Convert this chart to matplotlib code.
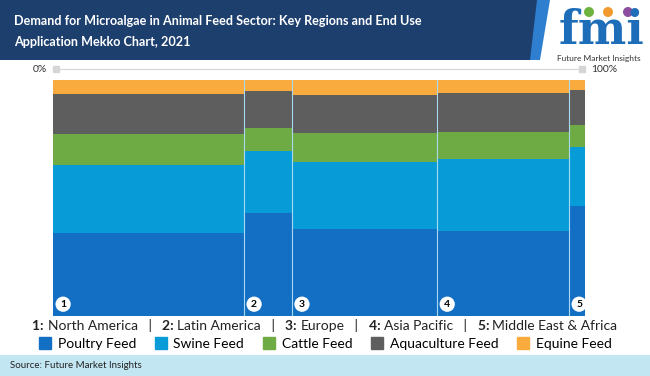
import numpy as np
import matplotlib.pyplot as plt
from matplotlib.patches import Polygon, Rectangle, Circle
from matplotlib.lines import Line2D

plt.rcParams['font.family'] = ['Lato', 'DejaVu Sans']

# data (percent)
regions = ['North America', 'Latin America', 'Europe', 'Asia Pacific', 'Middle East & Africa']
region_share = [35.9, 9.0, 27.3, 24.8, 3.0]
segments = ['Poultry Feed', 'Swine Feed', 'Cattle Feed', 'Aquaculture Feed', 'Equine Feed']
poultry = [35.2, 43.6, 36.9, 36.1, 46.6]
swine = [28.7, 26.3, 28.3, 30.4, 25.0]
cattle = [13.4, 9.7, 12.4, 11.4, 9.2]
aqua = [16.8, 15.7, 16.0, 16.7, 15.1]
equine = [5.9, 4.7, 6.4, 5.4, 4.1]
colors = ['#136fc3', '#079cd8', '#6fab45', '#5e5e5e', '#f9ab3e']

W, H = 650, 376
fig = plt.figure(figsize=(6.5, 3.76), dpi=100)
fig.patch.set_facecolor('white')

# --- header banner ---
bg = fig.add_axes([0, 0, 1, 1])
bg.set_xlim(0, W)
bg.set_ylim(H, 0)
bg.axis('off')
bg.add_patch(Polygon([[0, 0], [550, 0], [540, 60], [0, 60]], closed=True, fc='#2f7fd0', ec='none'))
bg.add_patch(Polygon([[0, 0], [537, 0], [530, 60], [0, 60]], closed=True, fc='#1c3f6e', ec='none'))
bg.text(14, 21, 'Demand for Microalgae in Animal Feed Sector: Key Regions and End Use',
        color='white', fontsize=9.1, fontweight='bold', va='center', ha='left')
bg.text(14, 42, 'Application Mekko Chart, 2021',
        color='white', fontsize=9.1, fontweight='bold', va='center', ha='left')

# logo
bg.text(601, 31, 'fmi', color='#1d6db8', fontsize=33, fontweight='bold',
        family='DejaVu Serif', ha='center', va='center')
for cx, c in zip([589, 608, 628], ['#6fb33f', '#f29a2e', '#8c4fa0']):
    bg.add_patch(Circle((cx, 12), 5, fc=c, ec='none'))
bg.text(599, 58, 'Future Market Insights', color='#333333', fontsize=6,
        ha='center', va='center')

# source bar
bg.add_patch(Rectangle((0, 355), W, 21, fc='#c3e6f3', ec='none'))
bg.text(10, 366, 'Source: Future Market Insights', fontsize=7, color='#222222',
        va='center', ha='left')

# --- mekko chart ---
ax = fig.add_axes([53 / W, 60 / H, 532 / W, 236 / H])
lefts = np.concatenate([[0], np.cumsum(region_share)[:-1]])
bottom = np.zeros(len(regions))
for vals, col in zip([poultry, swine, cattle, aqua, equine], colors):
    vals = np.array(vals)
    ax.bar(lefts, vals, width=region_share, bottom=bottom, align='edge',
           color=col, edgecolor='none')
    bottom += vals
for x in lefts[1:]:
    ax.axvline(x, color='#a8d8f2', lw=0.8)
ax.set_xlim(0, 100)
ax.set_ylim(0, 100)
ax.axis('off')

for i, x in enumerate(lefts):
    ax.text(x + 1.9, 5, str(i + 1), ha='center', va='center', fontsize=7.5,
            fontweight='bold', color='black',
            bbox=dict(boxstyle='circle,pad=0.3', fc='white', ec='none'))

# top percentage axis
ytop = 1 + 11 / 236
ax.plot([0.5, 99.5], [ytop * 100] * 2, color='#d6d6d6', lw=0.8, clip_on=False)
ax.plot([0.5, 99.5], [ytop * 100] * 2, ls='none', marker='s', ms=4,
        color='#d6d6d6', clip_on=False)
ax.text(-1.2, ytop * 100, '0%', ha='right', va='center', fontsize=7.5, color='#333333')
ax.text(101.2, ytop * 100, '100%', ha='left', va='center', fontsize=7.5, color='#333333')

# region key row
renderer = fig.canvas.get_renderer()
pieces = []
for i, r in enumerate(regions):
    pieces.append((f'{i + 1}: ', 'bold'))
    pieces.append((r, 'normal'))
    if i < len(regions) - 1:
        pieces.append(('   |   ', 'normal'))
texts = []
x = 0
for s, w in pieces:
    t = bg.text(x, 326, s, fontsize=10, fontweight=w, color='#222222',
                va='center', ha='left')
    texts.append(t)
    x += t.get_window_extent(renderer).width
total = x
x = W / 2 - total / 2
for t in texts:
    t.set_x(x)
    x += t.get_window_extent(renderer).width

# segment legend
handles = [Line2D([], [], ls='none', marker='s', ms=8, color=c) for c in colors]
fig.legend(handles, segments, loc='center', bbox_to_anchor=(0.5, 1 - 344 / H),
           ncol=5, frameon=False, fontsize=10, handletextpad=0.4,
           columnspacing=1.3, handlelength=1.0)

fig.savefig('out.png', dpi=100)
